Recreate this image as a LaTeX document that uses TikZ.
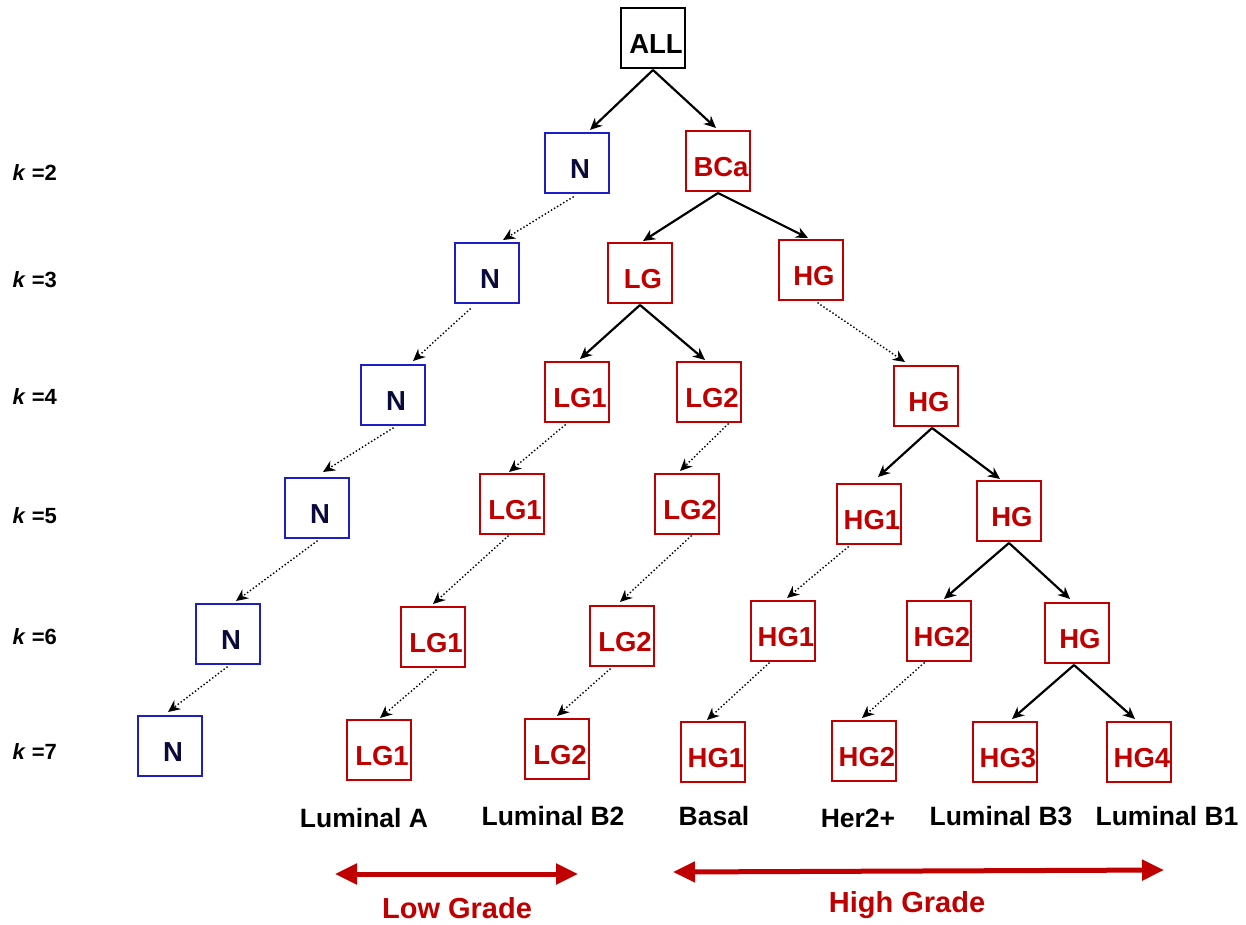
\documentclass[tikz,border=0pt]{standalone}
\usepackage{fontspec}
\setmainfont{Liberation Sans}
\usetikzlibrary{arrows.meta,calc}
\definecolor{myred}{RGB}{192,0,0}
\definecolor{myblue}{RGB}{30,30,200}
\definecolor{navy}{RGB}{10,10,60}
\newcommand\bx[1]{\makebox[0pt]{\hspace{6pt}#1}}
\begin{document}
\begin{tikzpicture}[x=1pt,y=-1pt,
  box/.style={draw,line width=2pt,minimum width=64pt,minimum height=60pt,inner sep=0pt,
    text height=30pt,text depth=0pt,font=\fontsize{27.5}{30}\selectfont\bfseries},
  nbox/.style={box,draw=myblue,text=navy},
  rbox/.style={box,draw=myred,text=myred},
  kbox/.style={box,draw=black,text=black},
  sol/.style={line width=2.2pt,-{Stealth[length=12pt,width=11pt]}},
  dot/.style={line width=2pt,line cap=round,dash pattern={on 0pt off 3.6pt},-{Stealth[length=12pt,width=11pt,line cap=butt]}},
  klab/.style={anchor=west,font=\fontsize{22}{24}\selectfont\bfseries},
  blab/.style={font=\fontsize{26.5}{29}\selectfont\bfseries},
  glab/.style={font=\fontsize{29}{31}\selectfont\bfseries,text=myred},
  garrow/.style={draw=myred,line width=5pt,{Triangle[length=22pt,width=20pt]}-{Triangle[length=22pt,width=20pt]}}
]
\useasboundingbox (0,0) rectangle (1246,924);
% row 1
\node[kbox] (all) at (653,38) {\bx{ALL}};
% k=2
\node[nbox] (n2) at (577,163) {\bx{N}};
\node[rbox] (bca) at (718,161) {\bx{BCa}};
% k=3
\node[nbox] (n3) at (487,273) {\bx{N}};
\node[rbox] (lg3) at (640,273) {\bx{LG}};
\node[rbox] (hg3) at (811,270) {\bx{HG}};
% k=4
\node[nbox] (n4) at (393,395) {\bx{N}};
\node[rbox] (lga4) at (577,392) {\bx{LG1}};
\node[rbox] (lgb4) at (709,392) {\bx{LG2}};
\node[rbox] (hg4) at (926,396) {\bx{HG}};
% k=5
\node[nbox] (n5) at (317,508) {\bx{N}};
\node[rbox] (lga5) at (512,504) {\bx{LG1}};
\node[rbox] (lgb5) at (687,504) {\bx{LG2}};
\node[rbox] (hga5) at (869,514) {\bx{HG1}};
\node[rbox] (hg5) at (1009,511) {\bx{HG}};
% k=6
\node[nbox] (n6) at (228,634) {\bx{N}};
\node[rbox] (lga6) at (433,637) {\bx{LG1}};
\node[rbox] (lgb6) at (622,636) {\bx{LG2}};
\node[rbox] (hga6) at (783,631) {\bx{HG1}};
\node[rbox] (hgb6) at (939,631) {\bx{HG2}};
\node[rbox] (hg6) at (1077,633) {\bx{HG}};
% k=7
\node[nbox] (n7) at (170,746) {\bx{N}};
\node[rbox] (lga7) at (379,750) {\bx{LG1}};
\node[rbox] (lgb7) at (557,749) {\bx{LG2}};
\node[rbox] (hga7) at (713,752) {\bx{HG1}};
\node[rbox] (hgb7) at (864,751) {\bx{HG2}};
\node[rbox] (hgc7) at (1005,752) {\bx{HG3}};
\node[rbox] (hgd7) at (1139,752) {\bx{HG4}};
% k labels
\node[klab] (k2) at (9,173) {\textit{k} =2};
\node[klab] (k3) at (9,280) {\textit{k} =3};
\node[klab] (k4) at (9,397) {\textit{k} =4};
\node[klab] (k5) at (9,516) {\textit{k} =5};
\node[klab] (k6) at (9,637) {\textit{k} =6};
\node[klab] (k7) at (9,752) {\textit{k} =7};
% solid arrows
\draw[sol] ([yshift=-1pt]all.south) -- ([xshift=13pt,yshift=2pt]n2.north);
\draw[sol] ([yshift=-1pt]all.south) -- ([xshift=-2pt,yshift=2pt]bca.north);
\draw[sol] ([yshift=-1pt]bca.south) -- ([xshift=3pt,yshift=1pt]lg3.north);
\draw[sol] ([yshift=-1pt]bca.south) -- ([xshift=-3pt,yshift=1pt]hg3.north);
\draw[sol] ([yshift=-1pt]lg3.south) -- ([xshift=3pt,yshift=2pt]lga4.north);
\draw[sol] ([yshift=-1pt]lg3.south) -- ([xshift=-4pt,yshift=1pt]lgb4.north);
\draw[sol] ([xshift=6pt,yshift=-1pt]hg4.south) -- ([xshift=9pt,yshift=6pt]hga5.north);
\draw[sol] ([xshift=6pt,yshift=-1pt]hg4.south) -- ([xshift=-9pt,yshift=1pt]hg5.north);
\draw[sol] ([yshift=-1pt]hg5.south) -- ([xshift=5pt,yshift=1pt]hgb6.north);
\draw[sol] ([yshift=-1pt]hg5.south) -- ([xshift=-7pt,yshift=3pt]hg6.north);
\draw[sol] ([xshift=-3pt,yshift=-1pt]hg6.south) -- ([xshift=7pt,yshift=2pt]hgc7.north);
\draw[sol] ([xshift=-3pt,yshift=-1pt]hg6.south) -- ([xshift=-4pt,yshift=2pt]hgd7.north);
% dotted arrows
\draw[dot] ([xshift=-4pt,yshift=-3pt]n2.south) -- ([xshift=16pt,yshift=2pt]n3.north);
\draw[dot] ([xshift=-17pt,yshift=-5pt]n3.south) -- ([xshift=20pt,yshift=3pt]n4.north);
\draw[dot] ([xshift=0pt,yshift=-2pt]n4.south) -- ([xshift=6pt,yshift=5pt]n5.north);
\draw[dot] ([xshift=0pt,yshift=-2pt]n5.south) -- ([xshift=8pt,yshift=2pt]n6.north);
\draw[dot] ([xshift=-1pt,yshift=-2pt]n6.south) -- ([xshift=-2pt,yshift=3pt]n7.north);
\draw[dot] ([xshift=-12pt,yshift=-2pt]lga4.south) -- ([xshift=-3pt,yshift=1pt]lga5.north);
\draw[dot] ([xshift=-4pt,yshift=-1pt]lga5.south) -- ([xshift=0pt,yshift=2pt]lga6.north);
\draw[dot] ([xshift=3pt,yshift=-2pt]lga6.south) -- ([xshift=1pt,yshift=1pt]lga7.north);
\draw[dot] ([xshift=19pt,yshift=-1pt]lgb4.south) -- ([xshift=-7pt,yshift=2pt]lgb5.north);
\draw[dot] ([xshift=4pt,yshift=-1pt]lgb5.south) -- ([xshift=-2pt,yshift=3pt]lgb6.north);
\draw[dot] ([xshift=-12pt,yshift=-2pt]lgb6.south) -- ([xshift=0pt,yshift=2pt]lgb7.north);
\draw[dot] ([xshift=7pt,yshift=-2pt]hg3.south) -- ([xshift=-21pt,yshift=3pt]hg4.north);
\draw[dot] ([xshift=-21pt,yshift=-2pt]hga5.south) -- ([xshift=4pt,yshift=2pt]hga6.north);
\draw[dot] ([xshift=-14pt,yshift=-1pt]hga6.south) -- ([xshift=-6pt,yshift=1pt]hga7.north);
\draw[dot] ([xshift=-15pt,yshift=-1pt]hgb6.south) -- ([xshift=-2pt,yshift=2pt]hgb7.north);
% bottom labels
\node[blab] (la) at (364,818) {Luminal A};
\node[blab] (lb2) at (553,816) {Luminal B2};
\node[blab] (bas) at (714,816) {Basal};
\node[blab] (her) at (858,818) {Her2+};
\node[blab] (lb3) at (1001,816) {Luminal B3};
\node[blab] (lb1) at (1167,816) {Luminal B1};
% grade arrows
\coordinate (lgL) at (335,874);
\coordinate (lgR) at (578,874);
\coordinate (hgL) at (673,872);
\coordinate (hgR) at (1164,870);
\draw[garrow] (lgL) -- (lgR);
\draw[garrow] (hgL) -- (hgR);
\node[glab] (low) at (457,908) {Low Grade};
\node[glab] (high) at (907,905) {High Grade};
\end{tikzpicture}
\end{document}
